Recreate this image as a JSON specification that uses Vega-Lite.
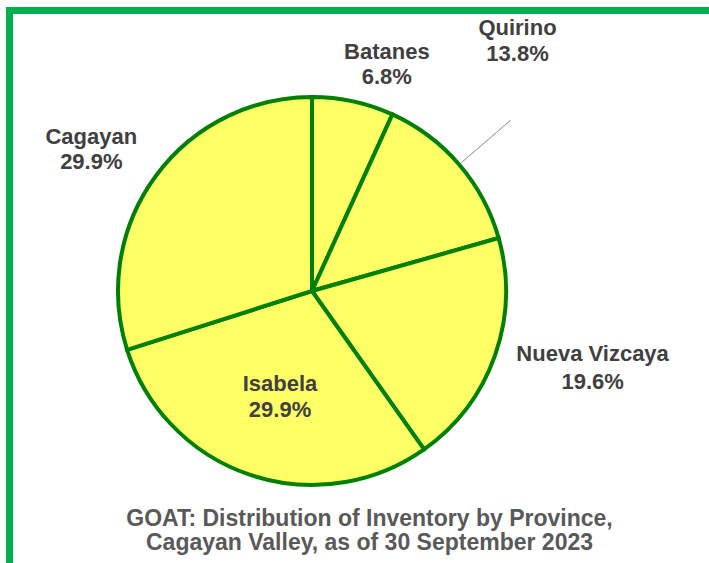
{
  "$schema": "https://vega.github.io/schema/vega-lite/v6.json",
  "width": 720,
  "height": 560,
  "autosize": "none",
  "padding": {"left": 9.5, "top": 10.5, "right": 0, "bottom": 0},
  "background": "white",
  "config": {
    "view": {"stroke": null},
    "font": "Liberation Sans"
  },
  "title": {
    "text": ["GOAT: Distribution  of Inventory by Province,", "Cagayan Valley, as of 30 September 2023"],
    "orient": "bottom",
    "anchor": "middle",
    "frame": "group",
    "offset": -66,
    "fontSize": 23,
    "fontWeight": "bold",
    "color": "#595959",
    "font": "Liberation Sans",
    "lineHeight": 24
  },
  "data": {
    "values": [
      {"rank": 1, "province": "Batanes", "share": 0.068},
      {"rank": 2, "province": "Quirino", "share": 0.138},
      {"rank": 3, "province": "Nueva Vizcaya", "share": 0.196},
      {"rank": 4, "province": "Isabela", "share": 0.299},
      {"rank": 5, "province": "Cagayan", "share": 0.299}
    ]
  },
  "transform": [
    {"calculate": "[datum.province, format(datum.share, '.1%')]", "as": "label"}
  ],
  "layer": [
    {
      "data": {"values": [{"frame": "chart area"}]},
      "mark": {"type": "rect", "x": 0, "x2": "width", "y": 0, "y2": "height", "filled": false, "stroke": "#00B050", "strokeWidth": 7},
      "encoding": {}
    },
    {
      "mark": {"type": "arc", "x": 302.5, "y": 280.5, "radius": 194, "fill": "#FFFF66", "stroke": "#008000", "strokeWidth": 4},
      "encoding": {
        "theta": {"field": "share", "type": "quantitative", "stack": true},
        "order": {"field": "rank", "type": "quantitative"}
      }
    },
    {
      "mark": {"type": "arc", "x": 302.5, "y": 280.5, "radius": 262, "radius2": 197, "padAngle": 3, "filled": false, "stroke": "#A6A6A6", "strokeWidth": 1},
      "encoding": {
        "theta": {"field": "share", "type": "quantitative", "stack": true},
        "order": {"field": "rank", "type": "quantitative"},
        "strokeOpacity": {"condition": {"test": "datum.province === 'Quirino'", "value": 1}, "value": 0}
      }
    },
    {
      "mark": {"type": "text", "x": 302.5, "y": 280.5, "radius": 235, "dx": 25, "dy": -9, "fontSize": 22, "fontWeight": "bold", "color": "#404040", "lineHeight": 25, "align": "center", "baseline": "middle"},
      "encoding": {
        "theta": {"field": "share", "type": "quantitative", "stack": true},
        "order": {"field": "rank", "type": "quantitative"},
        "text": {"condition": {"test": "datum.province === 'Batanes'", "field": "label", "type": "nominal"}, "value": ""}
      }
    },
    {
      "mark": {"type": "text", "x": 302.5, "y": 280.5, "radius": 300, "dx": -22, "dy": -67, "fontSize": 22, "fontWeight": "bold", "color": "#404040", "lineHeight": 26, "align": "center", "baseline": "middle"},
      "encoding": {
        "theta": {"field": "share", "type": "quantitative", "stack": true},
        "order": {"field": "rank", "type": "quantitative"},
        "text": {"condition": {"test": "datum.province === 'Quirino'", "field": "label", "type": "nominal"}, "value": ""}
      }
    },
    {
      "mark": {"type": "text", "x": 302.5, "y": 280.5, "radius": 235, "dx": 59, "dy": -15, "fontSize": 22, "fontWeight": "bold", "color": "#404040", "lineHeight": 28, "align": "center", "baseline": "middle"},
      "encoding": {
        "theta": {"field": "share", "type": "quantitative", "stack": true},
        "order": {"field": "rank", "type": "quantitative"},
        "text": {"condition": {"test": "datum.province === 'Nueva Vizcaya'", "field": "label", "type": "nominal"}, "value": ""}
      }
    },
    {
      "mark": {"type": "text", "x": 302.5, "y": 280.5, "radius": 110, "dx": 3, "dy": -11, "fontSize": 22, "fontWeight": "bold", "color": "#404040", "lineHeight": 26, "align": "center", "baseline": "middle"},
      "encoding": {
        "theta": {"field": "share", "type": "quantitative", "stack": true},
        "order": {"field": "rank", "type": "quantitative"},
        "text": {"condition": {"test": "datum.province === 'Isabela'", "field": "label", "type": "nominal"}, "value": ""}
      }
    },
    {
      "mark": {"type": "text", "x": 302.5, "y": 280.5, "radius": 235, "dx": -31, "dy": -15, "fontSize": 22, "fontWeight": "bold", "color": "#404040", "lineHeight": 25, "align": "center", "baseline": "middle"},
      "encoding": {
        "theta": {"field": "share", "type": "quantitative", "stack": true},
        "order": {"field": "rank", "type": "quantitative"},
        "text": {"condition": {"test": "datum.province === 'Cagayan'", "field": "label", "type": "nominal"}, "value": ""}
      }
    }
  ]
}
